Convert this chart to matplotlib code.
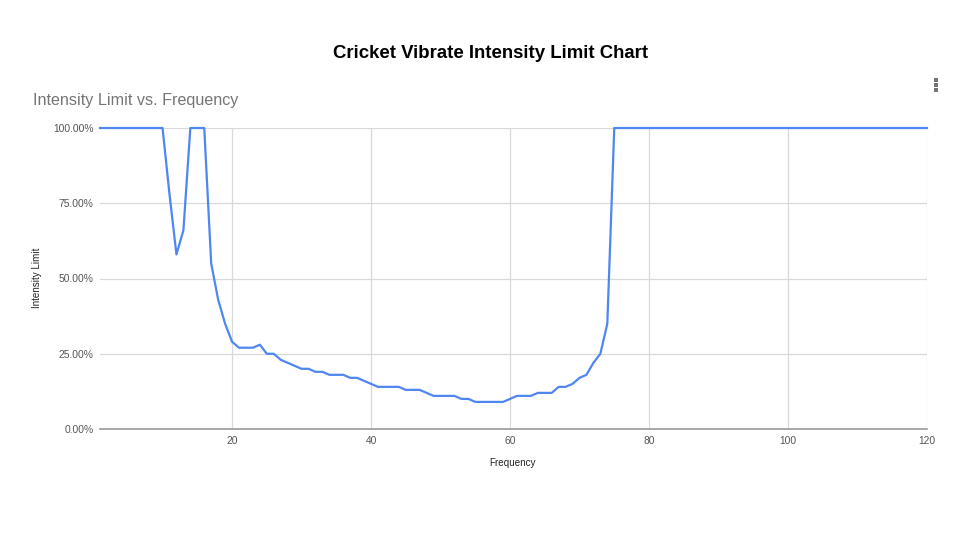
import matplotlib
matplotlib.use("Agg")
import matplotlib.pyplot as plt
from matplotlib.lines import Line2D
from matplotlib.ticker import FuncFormatter, FixedLocator

plt.rcParams["font.family"] = ["Liberation Sans", "DejaVu Sans"]

# frequency 1..120, intensity limit in %
freq = list(range(1, 121))
limit = ([100] * 10
         + [78, 58, 66, 100, 100, 100, 55, 43, 35, 29,
            27, 27, 27, 28, 25, 25, 23, 22, 21, 20,
            20, 19, 19, 18, 18, 18, 17, 17, 16, 15,
            14, 14, 14, 14, 13, 13, 13, 12, 11, 11,
            11, 11, 10, 10, 9, 9, 9, 9, 9, 10,
            11, 11, 11, 12, 12, 12, 14, 14, 15, 17,
            18, 22, 25, 35, 100]
         + [100] * 45)

x_ticks = [20, 40, 60, 80, 100, 120]
y_ticks = [0, 25, 50, 75, 100]

W, H = 960, 540
fig = plt.figure(figsize=(W / 100, H / 100), dpi=100)
ax = fig.add_axes([100 / W, 1 - 429 / H, 827 / W, 301 / H])

ax.plot(freq, limit, color="#4F86F1", lw=1.6, solid_joinstyle="round", zorder=3, clip_on=False)

ax.set_xlim(1, 120)
ax.set_ylim(0, 100)
ax.xaxis.set_major_locator(FixedLocator(x_ticks))
ax.yaxis.set_major_locator(FixedLocator(y_ticks))
ax.yaxis.set_major_formatter(FuncFormatter(lambda v, _: f"{v:.2f}%"))
ax.grid(True, color="#d9d9d9", lw=0.9, zorder=0)
for s in ["top", "right", "left"]:
    ax.spines[s].set_visible(False)
ax.spines["bottom"].set_color("#999999")
ax.spines["bottom"].set_linewidth(1.2)
ax.tick_params(length=0, labelsize=7.4, colors="#555555")
ax.tick_params(axis="x", pad=5)
ax.tick_params(axis="y", pad=4.5)

# axis titles placed in pixel positions
fig.text(513 / W, 1 - 463 / H, "Frequency", ha="center", va="center",
         fontsize=7.1, color="#222222")
fig.text(37 / W, 1 - 278 / H, "Intensity Limit", ha="center", va="center",
         rotation=90, fontsize=7.1, color="#222222")

fig.text(491 / W, 1 - 54 / H, "Cricket Vibrate Intensity Limit Chart",
         ha="center", va="center", fontsize=13.4, fontweight="bold", color="black")
fig.text(33 / W, 1 - 101 / H, "Intensity Limit vs. Frequency",
         ha="left", va="center", fontsize=11.6, color="#757575")
for yy in (80, 85, 90):
    fig.add_artist(Line2D([936 / W], [1 - yy / H], marker="s", markersize=2.2, mew=0,
                          color="#757575", lw=0, transform=fig.transFigure))

fig.savefig("out.png", dpi=100)
